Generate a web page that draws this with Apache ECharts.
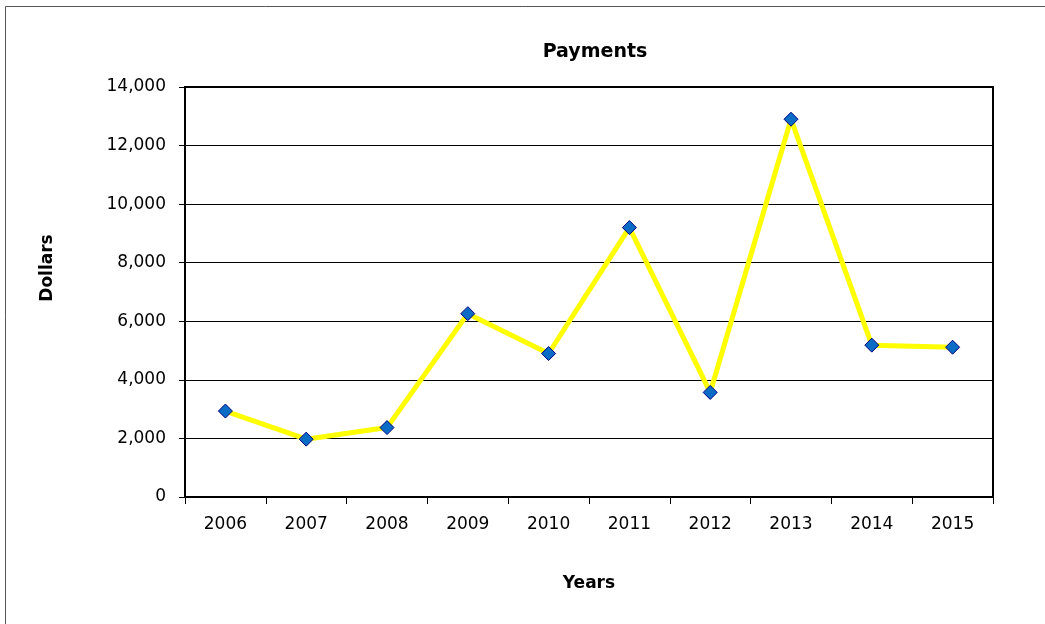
<!DOCTYPE html>
<html>
<head>
<meta charset="utf-8">
<title>Payments</title>
<script src="https://cdn.jsdelivr.net/npm/echarts@6/dist/echarts.min.js"></script>
<style>
  html, body { margin: 0; padding: 0; background: #fff; }
  #chart { width: 1045px; height: 624px; }
</style>
</head>
<body>
<div id="chart"></div>
<script>
// data
var years = ['2006', '2007', '2008', '2009', '2010', '2011', '2012', '2013', '2014', '2015'];
var payments = [2935, 1975, 2370, 6260, 4900, 9200, 3570, 12900, 5185, 5115];
var yMin = 0, yMax = 14000, yStep = 2000;

var font = 'DejaVu Sans, Verdana, sans-serif';

var chart = echarts.init(document.getElementById('chart'));
chart.setOption({
	backgroundColor: '#fff',
	animation: false,
	title: {
		text: 'Payments',
		left: 590,
		textAlign: 'center',
		top: 38,
		textStyle: { fontFamily: font, fontSize: 19, fontWeight: 'bold', color: '#000' }
	},
	grid: {
		left: 185, right: 52, top: 87, bottom: 127,
		show: true,
		borderColor: '#000',
		borderWidth: 2
	},
	xAxis: {
		type: 'category',
		data: years,
		boundaryGap: true,
		name: 'Years',
		nameLocation: 'middle',
		nameGap: 78,
		nameTextStyle: { fontFamily: font, fontSize: 17, fontWeight: 'bold', color: '#000' },
		axisLine: { lineStyle: { color: '#000', width: 2 } },
		axisTick: { show: true, length: 7, lineStyle: { color: '#000', width: 1 } },
		axisLabel: { fontFamily: font, fontSize: 17, color: '#000', margin: 19 }
	},
	yAxis: {
		type: 'value',
		min: yMin,
		max: yMax,
		interval: yStep,
		axisLine: { show: true, lineStyle: { color: '#000', width: 2 } },
		axisTick: { show: true, length: 6, lineStyle: { color: '#000', width: 1 } },
		axisLabel: {
			fontFamily: font, fontSize: 17, color: '#000', margin: 19,
			formatter: function (v) { return v.toLocaleString('en-US'); }
		},
		splitLine: { lineStyle: { color: '#000', width: 1 } }
	},
	graphic: [
		{
			type: 'rect',
			shape: { x: 5.5, y: 6.5, width: 1200, height: 800 },
			style: { fill: null, stroke: '#555', lineWidth: 1 },
			silent: true
		},
		{
			type: 'text',
			x: 48, y: 268,
			rotation: Math.PI / 2,
			style: {
				text: 'Dollars',
				fontFamily: font, fontSize: 17, fontWeight: 'bold', fill: '#000',
				align: 'center', verticalAlign: 'middle'
			}
		}
	],
	series: [{
		name: 'Payments',
		type: 'line',
		data: payments,
		symbol: 'diamond',
		symbolSize: 14,
		lineStyle: { color: '#ffff00', width: 5 },
		itemStyle: { color: '#0a6cc4', borderColor: '#000080', borderWidth: 1 }
	}]
});
</script>
</body>
</html>
